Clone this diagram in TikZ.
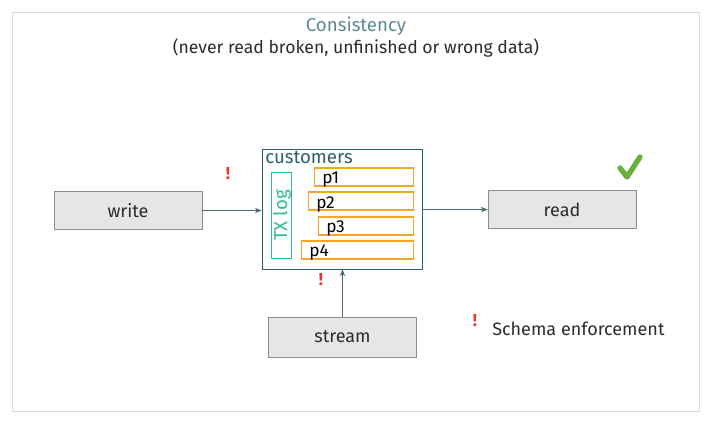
\documentclass[tikz,border=0pt]{standalone}
\usepackage{fontspec}
\setmainfont{Fira Sans}
\usetikzlibrary{arrows.meta}
\definecolor{frame}{HTML}{D9D9D9}
\definecolor{boxfill}{HTML}{E6E6E6}
\definecolor{boxline}{HTML}{8C8C8C}
\definecolor{teal}{HTML}{2F5F6B}
\definecolor{titlec}{HTML}{5E8A8E}
\definecolor{txt}{HTML}{2B2B2B}
\definecolor{txgreen}{HTML}{2DBE8C}
\definecolor{porange}{HTML}{F5A623}
\definecolor{warnred}{HTML}{E8382F}
\definecolor{checkg}{HTML}{6AAF3D}
\definecolor{arrowc}{HTML}{4A6670}
\tikzset{
  procbox/.style={draw=boxline, fill=boxfill, line width=0.6pt, minimum width=111pt, minimum height=28.5pt, inner sep=0pt, font=\fontsize{13.5}{15}\selectfont, text=txt},
  partbox/.style={draw=porange, line width=0.8pt, inner sep=0pt, minimum height=13.5pt, anchor=east},
  ptext/.style={font=\fontsize{13}{14}\selectfont, text=black, anchor=west, inner sep=0pt},
  conn/.style={draw=arrowc, line width=0.6pt, -{Stealth[length=5pt,width=4pt]}},
  warn/.style={text=warnred, font=\bfseries\fontsize{13}{14}\selectfont, inner sep=0pt}
}
\begin{document}
\begin{tikzpicture}[x=0.75pt,y=-0.75pt]
\useasboundingbox (0,0) rectangle (709,422);
\draw[frame, line width=0.6pt] (12,12) rectangle (699,411);
\node[text=titlec, font=\fontsize{14}{16}\selectfont] (title) at (356,26) {Consistency};
\node[text=txt, font=\fontsize{13.2}{15}\selectfont] (sub) at (356,48) {(never read broken, unfinished or wrong data)};

\node[procbox] (write) at (128,210.5) {write};
\node[procbox] (read) at (562,209.5) {read};
\node[procbox, minimum height=30pt] (stream) at (342.5,337) {stream};

\node[draw=teal, line width=0.7pt, minimum width=120pt, minimum height=90pt, inner sep=0pt] (cust) at (342,209) {};
\node[text=teal, font=\fontsize{14}{15}\selectfont, anchor=north west, inner sep=0pt] (custlabel) at (265,151) {customers};

\node[draw=txgreen, line width=0.7pt, minimum width=15pt, minimum height=65pt, inner sep=0pt] (txlog) at (281,215.5) {};
\node[text=txgreen, rotate=90, font=\fontsize{14}{15}\selectfont, inner sep=0pt] (txlabel) at (282,215.5) {TX log};

\node[partbox, minimum width=74.25pt] (p1) at (414,177) {};
\node[partbox, minimum width=78.75pt] (p2) at (414,201) {};
\node[partbox, minimum width=71.25pt] (p3) at (414,226) {};
\node[partbox, minimum width=84pt] (p4) at (414,250) {};
\node[ptext] (t1) at (322,180) {p1};
\node[ptext] (t2) at (316,204) {p2};
\node[ptext] (t3) at (326,228) {p3};
\node[ptext] (t4) at (309,252) {p4};

\draw[conn] (write.east) -- (cust.west |- write.east);
\draw[conn] (cust.east |- read.west) -- (read.west);
\draw[conn] (stream.north) -- (stream.north |- cust.south);

\node[warn] (w1) at (228,174) {!};
\node[warn] (w2) at (321,280) {!};
\node[warn] (w3) at (475,321) {!};
\node[text=txt, font=\fontsize{13.5}{15}\selectfont, anchor=west, inner sep=0pt] (schema) at (492,329) {Schema enforcement};

\draw[checkg, line width=4pt, line cap=round, line join=round] (620,168) -- (627,177) -- (640,157);
\end{tikzpicture}
\end{document}
